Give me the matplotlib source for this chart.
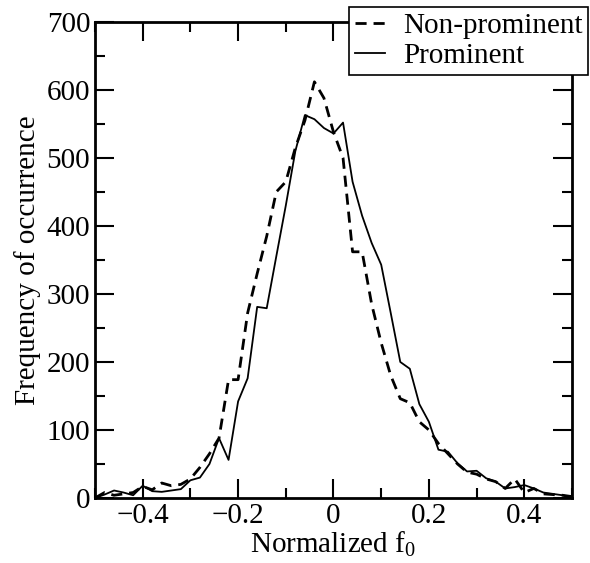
import numpy as np
import matplotlib
matplotlib.use("Agg")
import matplotlib.pyplot as plt
from matplotlib.ticker import MultipleLocator

plt.rcParams['font.family'] = ['Liberation Serif', 'DejaVu Serif']
plt.rcParams['mathtext.fontset'] = 'custom'
plt.rcParams['mathtext.rm'] = 'Liberation Serif'

# bin centres of normalized f0
f0 = np.round(np.arange(-0.5, 0.5001, 0.02), 2)

non_prominent = [0, 8, 4, 6, 8, 17, 12, 22, 18, 20,
                 28, 45, 65, 88, 174, 174, 272, 330, 385, 450,
                 465, 515, 555, 612, 588, 538, 500, 362, 362, 285,
                 228, 180, 146, 140, 112, 100, 80, 65, 50, 38,
                 35, 28, 24, 14, 28, 8, 14, 6, 5, 4, 2]

prominent = [0, 5, 11, 8, 4, 18, 10, 9, 11, 13,
             26, 30, 50, 88, 56, 142, 176, 281, 279, 355,
             430, 510, 563, 557, 544, 536, 552, 465, 415, 375,
             343, 272, 200, 190, 138, 112, 71, 68, 51, 39,
             40, 29, 24, 14, 16, 19, 14, 8, 6, 4, 1]

fig = plt.figure(figsize=(5.9, 5.63), dpi=100)
ax = fig.add_axes([0.161, 0.1155, 0.8085, 0.8455])

ax.plot(f0, non_prominent, color='black', linestyle='--', linewidth=2,
        dashes=(4, 2.5), label='Non-prominent')
ax.plot(f0, prominent, color='black', linestyle='-', linewidth=1.3,
        label='Prominent')

ax.set_xlim(-0.5, 0.5)
ax.set_ylim(0, 700)
ax.xaxis.set_major_locator(MultipleLocator(0.2))
ax.xaxis.set_minor_locator(MultipleLocator(0.1))
ax.yaxis.set_major_locator(MultipleLocator(100))
ax.yaxis.set_minor_locator(MultipleLocator(50))
ax.set_xticks([-0.4, -0.2, 0, 0.2, 0.4])
ax.set_xticklabels(['\u22120.4', '\u22120.2', '0', '0.2', '0.4'])

ax.tick_params(which='both', direction='in', top=True, right=True,
               labelsize=21, width=1.5)
ax.tick_params(which='major', length=14)
ax.tick_params(which='minor', length=7)
for s in ax.spines.values():
    s.set_linewidth(2)

ax.set_xlabel('Normalized f$_0$', fontsize=21, labelpad=0)
ax.set_ylabel('Frequency of occurrence', fontsize=21, labelpad=4)

leg = fig.legend(loc='upper right', bbox_to_anchor=(0.997, 0.988),
                 fontsize=21, frameon=True, fancybox=False,
                 borderpad=0.2, handlelength=1.05, handletextpad=0.6,
                 labelspacing=0.12, borderaxespad=0)
leg.get_frame().set_edgecolor('black')
leg.get_frame().set_linewidth(1.2)
leg.get_frame().set_alpha(1)

plt.savefig('out.png', dpi=100)
